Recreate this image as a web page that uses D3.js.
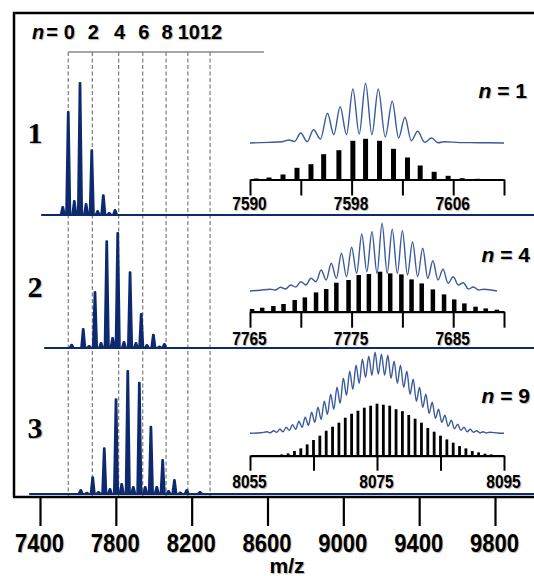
<!DOCTYPE html>
<html>
<head>
<meta charset="utf-8">
<script src="https://d3js.org/d3.v7.min.js"></script>
<style>
    body { margin: 0; background: #fff; }
    svg text { font-family: "Liberation Sans", Arial, sans-serif; font-weight: bold; }
    .shadow { text-shadow: 1px 1px 1px rgba(0, 0, 0, 0.3); }
</style>
</head>
<body>
<div id="chart"></div>
<script>
// main m/z axis ticks
var mainTicks = [7400, 7800, 8200, 8600, 9000, 9400, 9800]

// dashed guides for n = 0 ... 12
var nGuideMz = [7549, 7676, 7815, 7942, 8065, 8180, 8297]
var nGuideLabels = ["0", "2", "4", "6", "8", "10", "12"]

// the three spectra (m/z of each peak, relative intensity)
var panelNames = ["1", "2", "3"]
var specStartMz = [7410, 7426, 7347]
var specEndMz = 10010
var spec1Mz = [7520, 7549, 7581, 7611, 7643, 7673, 7704, 7734, 7765, 7796]
var spec1Int = [6, 78, 10.6, 100, 8.3, 49, 3, 15, 1.5, 3.8]
var spec2Mz = [7567, 7628, 7659, 7690, 7722, 7752, 7783, 7810, 7843, 7875, 7906, 7934, 7964, 7998, 8030, 8056]
var spec2Int = [2.5, 14.4, 1.5, 42.4, 3.8, 80.8, 7.6, 87.1, 4.5, 57.3, 3.8, 25.8, 2.3, 10.1, 1.1, 3]
var spec3Mz = [7615, 7647, 7678, 7709, 7739, 7769, 7801, 7831, 7863, 7892, 7924, 7955, 7985, 8016, 8047, 8078, 8109, 8140, 8174, 8244]
var spec3Int = [3, 1, 12.6, 1.5, 34.6, 3.8, 71.7, 7.6, 93.2, 5.3, 84.3, 5.3, 51, 5.3, 25.8, 2.3, 10.6, 1.1, 3, 1.5]

// inset n = 1
var ins1Label = "1"
var ins1Ticks = [7590, 7594, 7598, 7602, 7606, 7610]
var ins1TickLabels = ["7590", "", "7598", "", "7606", ""]
var ins1BarMz = [7590.5, 7591.5, 7592.6, 7593.7, 7594.8, 7595.8, 7597.0, 7598.1, 7599.1, 7600.2, 7601.3, 7602.4, 7603.4, 7604.5, 7605.6, 7606.7, 7607.9]
var ins1BarInt = [1, 2, 5, 11.7, 15.3, 25.3, 29.3, 38.7, 40.7, 38.7, 30.7, 22, 14, 7.7, 3.7, 1.3, 0.7]
var ins1PeakMz = [7594.0, 7595.0, 7596.1, 7597.1, 7598.1, 7599.1, 7600.1, 7601.2, 7602.2, 7603.2, 7604.3, 7605.3]
var ins1PeakInt = [10, 13.3, 29.7, 36.3, 54, 59.7, 54, 41.7, 25.7, 11.7, 5, 1.3]
var ins1ValleyInt = [1.3, 4, 8.3, 8.3, 9, 8.3, 6, 5, 2.3, 0.7, 0.3]
var ins1Lead = [[7590, 0], [7591.5, 0.6], [7592.5, 1.2], [7593.1, 3], [7593.5, 1.5]]
var ins1Tail = [[7606.5, 0.4], [7608, 0.3], [7610, 0]]

// inset n = 4
var ins2Label = "4"
var ins2Ticks = [7765, 7770, 7775, 7780, 7785, 7790]
var ins2TickLabels = ["7765", "", "7775", "", "7685", ""]
var ins2BarMz = [7765.2, 7766.2, 7767.3, 7768.3, 7769.4, 7770.4, 7771.5, 7772.5, 7773.5, 7774.7, 7775.7, 7776.7, 7777.8, 7778.8, 7779.9, 7780.9, 7781.9, 7783.0, 7784.1, 7785.1, 7786.1, 7787.2, 7788.2, 7789.3]
var ins2BarInt = [2.7, 4, 5.7, 7.7, 11.7, 14.3, 19.3, 22.7, 29, 31.7, 36.7, 37.7, 40, 38.3, 37.3, 32.3, 28.3, 22.3, 17.3, 12.3, 8.3, 5, 3.3, 2]
var ins2PeakMz = [7767, 7768, 7769, 7770, 7771, 7772, 7773, 7774, 7775, 7776, 7777, 7778, 7779, 7780, 7781, 7782, 7783, 7784, 7785, 7786, 7787, 7788]
var ins2PeakInt = [1.7, 3.7, 6, 9.3, 12.7, 21, 27.7, 37.7, 43.7, 57, 59.3, 67.7, 61.7, 60.3, 49.3, 42.7, 30.3, 21.7, 14.3, 8.3, 4, 1.7]
var ins2ValleyInt = [1, 2, 4, 6, 9.3, 11, 12.7, 14.3, 17.7, 19.3, 17.7, 17.7, 17.7, 16, 14.3, 12.7, 11, 7.7, 6, 2, 1]
var ins2Lead = [[7765, 0], [7766, 0.8]]
var ins2Tail = [[7789.3, 0]]

// inset n = 9
var ins3Label = "9"
var ins3Ticks = [8055, 8065, 8075, 8085, 8095]
var ins3TickLabels = ["8055", "", "8075", "", "8095"]
var ins3BarMz = [8059, 8060, 8061, 8062, 8063, 8064, 8065, 8066, 8067, 8068, 8069, 8070, 8071, 8072, 8073, 8074, 8075, 8076, 8077, 8078, 8079, 8080, 8081, 8082, 8083, 8084, 8085, 8086, 8087, 8088, 8089, 8090, 8091, 8092, 8093, 8094]
var ins3BarInt = [0.7, 1.3, 2.3, 4.7, 7.3, 11.3, 15.7, 20, 25, 29, 33, 38, 42, 45, 48, 50, 52, 51, 50, 46.5, 44.5, 40.7, 37, 33, 27.7, 24, 20, 16.3, 13, 9.7, 7.3, 4.7, 3.3, 2, 1.3, 0.7]
var ins3PeakMz = [8057.7, 8058.7, 8059.7, 8060.7, 8061.7, 8062.7, 8063.7, 8064.7, 8065.7, 8066.7, 8067.7, 8068.7, 8069.7, 8070.7, 8071.7, 8072.7, 8073.7, 8074.7, 8075.7, 8076.7, 8077.7, 8078.7, 8079.7, 8080.7, 8081.7, 8082.7, 8083.7, 8084.7, 8085.7, 8086.7, 8087.7, 8088.7, 8089.7, 8090.7, 8091.7, 8092.7]
var ins3PeakInt = [1.5, 2.5, 4, 6, 8.5, 12, 16, 21, 26, 32, 39, 46, 55, 62, 68, 74, 77, 81, 79, 78, 72, 68, 62, 54, 46, 39, 31, 24, 18, 13, 9, 6, 4, 2.5, 1.5, 1]
var ins3ValleyInt = [0.5, 1, 1.5, 3, 4, 6, 8, 11, 14, 19, 24, 30, 38, 44, 50, 56, 58, 59, 58, 55, 50, 46, 39, 32, 26, 20, 15, 11, 7, 4.5, 3, 1.5, 1, 0.5, 0.3]
var ins3Lead = [[8055, 0], [8056.7, 0.5]]
var ins3Tail = [[8094, 0.3], [8095, 0]]

// colours
var navy = "#0e2a6e"
var blue = "#3a5a9c"

var svg = d3.select("#chart")
    .append("svg")
    .attr("width", 534)
    .attr("height", 576)

// X scale for the three spectra
var x = d3.scaleLinear()
    .domain([7400, 9800])
    .range([40, 495])

// one intensity scale for the spectra
var yMain = d3.scaleLinear()
    .domain([0, 100])
    .range([0, 132])

// frame
svg.append("path")
    .attr("d", "M14,497V13H534")
    .attr("fill", "none")
    .attr("stroke", "#000")
    .attr("stroke-width", 2.5)

// guide lines
svg.append("line")
    .attr("x1", x(nGuideMz[0])).attr("x2", 264)
    .attr("y1", 52).attr("y2", 52)
    .attr("stroke", "#8a8a8a")
    .attr("stroke-width", 1.5)
svg.selectAll(".guide")
    .data(nGuideMz)
    .enter()
    .append("line")
    .attr("class", "guide")
    .attr("x1", function (d) { return x(d) })
    .attr("x2", function (d) { return x(d) })
    .attr("y1", 52)
    .attr("y2", 496)
    .attr("stroke", "#707070")
    .attr("stroke-width", 1.1)
    .attr("stroke-dasharray", "4,2.5")

// n = labels on top
var nText = svg.append("text")
    .attr("class", "shadow")
    .attr("x", 32)
    .attr("y", 39)
    .attr("font-size", 20)
nText.append("tspan").attr("font-style", "italic").text("n")
nText.append("tspan").attr("dx", 2).text("=")
svg.selectAll(".nlab")
    .data(nGuideLabels)
    .enter()
    .append("text")
    .attr("class", "nlab shadow")
    .attr("x", function (d, i) { return x(nGuideMz[i]) + 1 })
    .attr("y", 39)
    .attr("font-size", 20)
    .attr("text-anchor", "middle")
    .text(function (d) { return d })

// spectra
var panelBase = [215, 348, 494]
var specMz = [spec1Mz, spec2Mz, spec3Mz]
var specInt = [spec1Int, spec2Int, spec3Int]
var spikeHalf = 11
var spikeTop = 2

var area = d3.area()
    .x(function (d) { return x(d[0]) })
    .y0(0)
    .y1(function (d) { return -yMain(d[1]) })

specMz.forEach(function (mzs, p) {
    var pts = [[specStartMz[p], 0]]
    mzs.forEach(function (m, i) {
        var h = specInt[p][i]
        pts.push([m - spikeHalf, 0], [m - spikeTop, h], [m + spikeTop, h], [m + spikeHalf, 0])
    })
    pts.push([specEndMz, 0])

    var g = svg.append("g").attr("transform", "translate(0," + panelBase[p] + ")")
    g.append("path")
        .datum(pts)
        .attr("d", area)
        .attr("fill", navy)
        .attr("stroke", navy)
        .attr("stroke-width", 2)
        .attr("stroke-linejoin", "round")

    // panel number
    svg.append("text")
        .attr("class", "shadow")
        .attr("x", 35)
        .attr("y", [143, 297, 438][p])
        .attr("text-anchor", "middle")
        .style("font-family", "'Liberation Serif', 'Times New Roman', serif")
        .attr("font-size", 30)
        .text(panelNames[p])
})

// insets
var insets = [
    { label: ins1Label, ticks: ins1Ticks, tickLabels: ins1TickLabels, barMz: ins1BarMz, barInt: ins1BarInt,
      peakMz: ins1PeakMz, peakInt: ins1PeakInt, valleyInt: ins1ValleyInt, lead: ins1Lead, tail: ins1Tail,
      axisY: 179.5, blueY: 143, barPx: 40.7, bluePx: 59.7, barW: 5, tickLen: 16, labelOff: 30, nY: 98, nX: 527 },
    { label: ins2Label, ticks: ins2Ticks, tickLabels: ins2TickLabels, barMz: ins2BarMz, barInt: ins2BarInt,
      peakMz: ins2PeakMz, peakInt: ins2PeakInt, valleyInt: ins2ValleyInt, lead: ins2Lead, tail: ins2Tail,
      axisY: 311.7, blueY: 291, barPx: 40, bluePx: 67.7, barW: 4.5, tickLen: 16, labelOff: 33, nY: 261.5, nX: 530 },
    { label: ins3Label, ticks: ins3Ticks, tickLabels: ins3TickLabels, barMz: ins3BarMz, barInt: ins3BarInt,
      peakMz: ins3PeakMz, peakInt: ins3PeakInt, valleyInt: ins3ValleyInt, lead: ins3Lead, tail: ins3Tail,
      axisY: 455.7, blueY: 433.3, barPx: 52, bluePx: 81, barW: 2.8, tickLen: 15, labelOff: 32.5, nY: 403, nX: 530 }
]

insets.forEach(function (ins) {
    var sx = d3.scaleLinear()
        .domain([ins.ticks[0], ins.ticks[ins.ticks.length - 1]])
        .range([250, 504])
    var by = d3.scaleLinear().domain([0, d3.max(ins.barInt)]).range([0, ins.barPx])
    var ly = d3.scaleLinear().domain([0, d3.max(ins.peakInt)]).range([0, ins.bluePx])

    // stick spectrum
    svg.append("g")
        .selectAll("rect")
        .data(ins.barMz)
        .enter()
        .append("rect")
        .attr("x", function (d) { return sx(d) - ins.barW / 2 })
        .attr("y", function (d, i) { return ins.axisY - by(ins.barInt[i]) })
        .attr("width", ins.barW)
        .attr("height", function (d, i) { return by(ins.barInt[i]) })
        .attr("fill", "#000")

    // measured isotope profile
    var pts = ins.lead.slice()
    ins.peakMz.forEach(function (m, i) {
        pts.push([m, ins.peakInt[i]])
        if (i < ins.valleyInt.length) {
            pts.push([(m + ins.peakMz[i + 1]) / 2, ins.valleyInt[i]])
        }
    })
    pts = pts.concat(ins.tail)
    svg.append("path")
        .datum(pts)
        .attr("d", d3.line()
            .x(function (d) { return sx(d[0]) })
            .y(function (d) { return ins.blueY - ly(d[1]) })
            .curve(d3.curveMonotoneX))
        .attr("fill", "none")
        .attr("stroke", blue)
        .attr("stroke-width", 1.4)

    // inset axis
    var ax = svg.append("g")
        .attr("transform", "translate(0," + ins.axisY + ")")
        .call(d3.axisBottom(sx)
            .tickValues(ins.ticks)
            .tickSize(ins.tickLen)
            .tickSizeOuter(0)
            .tickFormat(function (d, i) { return ins.tickLabels[i] }))
    ax.select(".domain").attr("stroke", "#000").attr("stroke-width", 2.2)
    ax.selectAll(".tick line").attr("stroke", "#000").attr("stroke-width", 2)
    ax.selectAll(".tick text")
        .attr("y", null)
        .attr("dy", null)
        .attr("class", "shadow")
        .attr("transform", "translate(-1," + ins.labelOff + ") scale(1,1.2)")
        .attr("font-size", 15.5)
        .attr("font-family", null)

    // n = k
    var t = svg.append("text")
        .attr("class", "shadow")
        .attr("x", ins.nX)
        .attr("y", ins.nY)
        .attr("text-anchor", "end")
        .attr("font-size", 21)
    t.append("tspan").attr("font-style", "italic").text("n")
    t.append("tspan").text(" = " + ins.label)
})

// main X axis
var xAxis = svg.append("g")
    .attr("transform", "translate(0,497)")
    .call(d3.axisBottom(x)
        .tickValues(mainTicks)
        .tickSize(29)
        .tickSizeOuter(0)
        .tickFormat(d3.format("d")))
xAxis.select(".domain").remove()
xAxis.attr("font-family", null)
xAxis.selectAll(".tick line").attr("stroke", "#000").attr("stroke-width", 2.2)
xAxis.selectAll(".tick text")
    .attr("y", null)
    .attr("dy", null)
    .attr("class", "shadow")
    .attr("transform", "translate(-1,54.5) scale(1,1.2)")
    .attr("font-size", 22)
svg.append("line")
    .attr("x1", 13).attr("x2", 534)
    .attr("y1", 497).attr("y2", 497)
    .attr("stroke", "#000")
    .attr("stroke-width", 2.5)

// axis title
svg.append("text")
    .attr("class", "shadow")
    .attr("x", 287)
    .attr("y", 573)
    .attr("text-anchor", "middle")
    .attr("font-size", 21)
    .text("m/z")
</script>
</body>
</html>
